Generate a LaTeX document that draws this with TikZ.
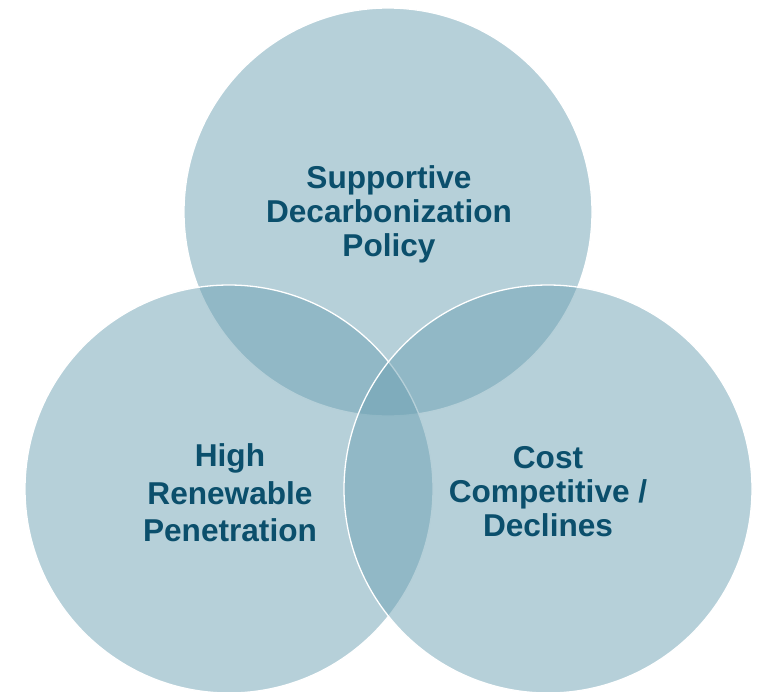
\documentclass[tikz,border=0pt]{standalone}
\usepackage{fontspec}
\setmainfont{Liberation Sans}
\definecolor{ringfill}{HTML}{6DA1B3}
\definecolor{labeltext}{HTML}{0B4F6C}
\begin{document}
\begin{tikzpicture}[x=1pt, y=-1pt,
  ring/.style={circle, minimum size=408pt, inner sep=0pt,
    fill=ringfill, fill opacity=0.5, draw=white, draw opacity=1, line width=1.3pt},
  label/.style={align=center, inner sep=0pt, text=labeltext,
    font=\bfseries\fontsize{31.6}{#1}\selectfont},
  label/.default=34]
  \useasboundingbox (0,0) rectangle (763,691);
  \clip (0,0) rectangle (763,691);
  % three overlapping circles, later ones over earlier ones
  \node[ring] (policy) at (388,212) {};
  \node[ring] (renew)  at (229,489) {};
  \node[ring] (cost)   at (548,489) {};
  % circle captions
  \node[label] (policytext) at ([shift={(1,2)}]policy.center)
    {Supportive\\Decarbonization\\Policy};
  \node[label=37.5] (renewtext) at ([shift={(1,4)}]renew.center)
    {High\\Renewable\\Penetration};
  \node[label] (costtext) at ([shift={(0,3)}]cost.center)
    {Cost\\Competitive /\\Declines};
\end{tikzpicture}
\end{document}
